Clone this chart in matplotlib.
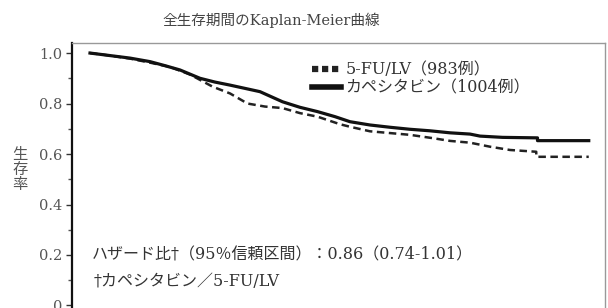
import matplotlib
matplotlib.use("Agg")
import matplotlib.pyplot as plt
from matplotlib.lines import Line2D
import numpy as np

plt.rcParams['font.family'] = ['DejaVu Serif', 'Noto Sans CJK JP', 'DejaVu Sans']

# Survival curves (time in months, survival proportion)
cape_t = [0, 1.6, 3.2, 4.8, 6.0, 7.2, 8.8, 10.0, 11.2, 13.6, 15.4, 16.8, 18.2,
          19.6, 20.8, 22.4, 24.0, 25.6, 27.2, 28.8, 30.4, 31.2, 33.0, 35.8, 35.8, 39.9]
cape_s = [1.000, 0.990, 0.980, 0.966, 0.950, 0.933, 0.900, 0.885, 0.873, 0.847,
          0.807, 0.785, 0.768, 0.748, 0.728, 0.715, 0.706, 0.698, 0.692, 0.684,
          0.679, 0.671, 0.666, 0.664, 0.653, 0.653]
fulv_t = [0, 1.6, 3.2, 4.8, 6.4, 8.0, 9.8, 11.2, 12.6, 14.0, 15.4, 16.8, 18.2,
          20.0, 20.8, 22.4, 24.0, 25.6, 27.4, 28.8, 30.4, 32.0, 33.6, 35.7, 35.7, 39.9]
fulv_s = [1.000, 0.990, 0.978, 0.962, 0.945, 0.915, 0.867, 0.840, 0.800, 0.788,
          0.782, 0.762, 0.748, 0.718, 0.708, 0.690, 0.683, 0.676, 0.663, 0.652,
          0.645, 0.629, 0.616, 0.609, 0.589, 0.589]

labels = ['5-FU/LV（983例）', 'カペシタビン（1004例）']
yticks = [0, 0.2, 0.4, 0.6, 0.8, 1.0]
yticklabels = ['0', '0.2', '0.4', '0.6', '0.8', '1.0']

fig = plt.figure(figsize=(6.08, 3.08), dpi=100)
ax = fig.add_axes([72/608, -0.0328, 533/608, 0.894])

ax.plot(fulv_t, fulv_s, color='#222222', lw=1.8, linestyle=(0, (3.0, 1.8)))
ax.plot(cape_t, cape_s, color='#111111', lw=2.3)

ax.set_xlim(-1.44, 41.2)
ax.set_ylim(-0.05, 1.0408)
ax.set_xticks([])
ax.set_yticks(yticks)
ax.set_yticklabels(yticklabels)
ax.set_yticks(np.arange(0.1, 1.0, 0.2), minor=True)
ax.tick_params(axis='y', which='major', direction='out', length=4, width=1,
               color='#333333', labelsize=10.5, labelcolor='#555555', pad=3)
ax.tick_params(axis='y', which='minor', direction='out', length=3, width=1,
               color='#555555')

for side in ['top', 'right']:
    ax.spines[side].set_color('#999999')
    ax.spines[side].set_linewidth(1.0)
ax.spines['left'].set_color('#111111')
ax.spines['left'].set_linewidth(1.6)
ax.spines['bottom'].set_visible(False)

handles = [Line2D([], [], color='#222222', lw=4.5, linestyle=(0, (1.0, 0.6))),
           Line2D([], [], color='#111111', lw=4.0)]
fig.legend(handles, labels, loc='upper left', bbox_to_anchor=(306/608, 1 - 55/308),
           frameon=False, fontsize=11.5, handlelength=1.8, handletextpad=0.25,
           labelspacing=0.05, labelcolor='#333333', borderaxespad=0)

fig.text(271/608, 1 - 20/308, '全生存期間のKaplan-Meier曲線', ha='center', va='center',
         fontsize=10.5, color='#444444')
fig.text(20/608, 1 - 170/308, '生\n存\n率', ha='center', va='center',
         fontsize=11, color='#555555', linespacing=1.1)
fig.text(92/608, 1 - 255/308, 'ハザード比†（95％信頼区間）：0.86（0.74-1.01）',
         ha='left', va='center', fontsize=11.5, color='#333333')
fig.text(94/608, 1 - 282/308, '†カペシタビン／5-FU/LV',
         ha='left', va='center', fontsize=11.5, color='#333333')

fig.savefig('out.png', dpi=100)
